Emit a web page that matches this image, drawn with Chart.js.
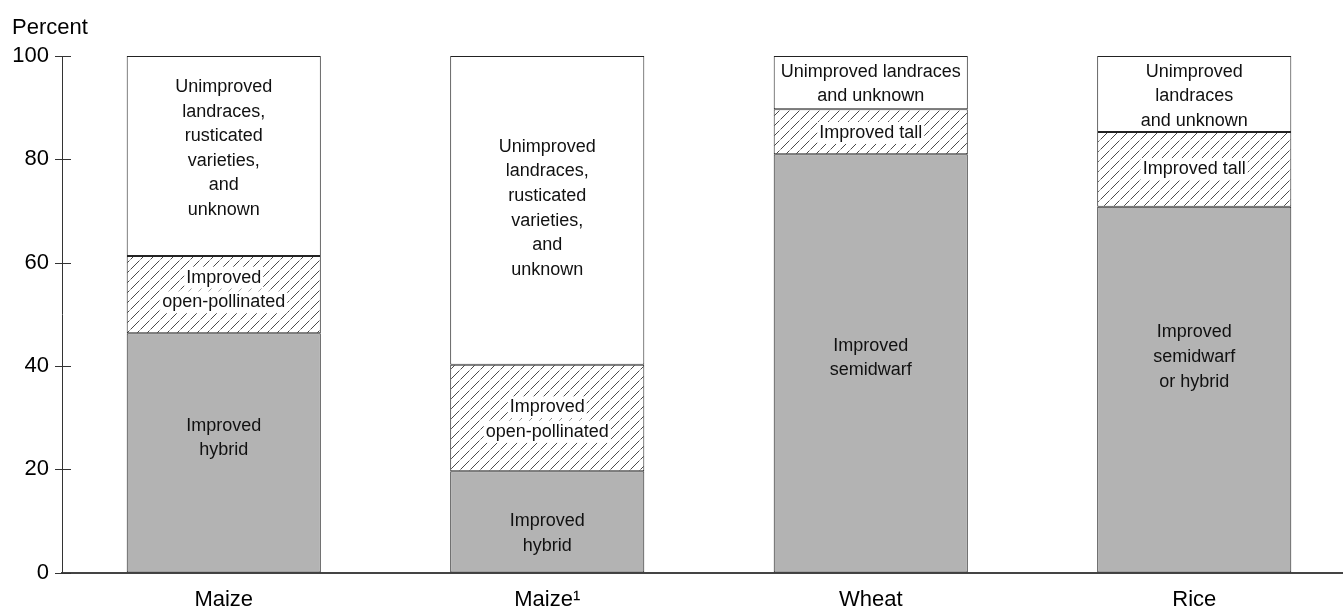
<!DOCTYPE html>
<html>
<head>
<meta charset="utf-8">
<script src="https://cdn.jsdelivr.net/npm/chart.js@4.4.1/dist/chart.umd.min.js"></script>
<style>
    html, body { margin: 0; padding: 0; background: #fff; overflow: hidden; }
    #grafico { display: block; }
</style>
</head>
<body>
<canvas id="grafico" width="1360" height="609"></canvas>
<script>
var categorias = ["Maize", "Maize\u00b9", "Wheat", "Rice"];
var moderno = [46.3, 19.6, 81.0, 70.8];      // improved hybrid / semidwarf
var outros = [15.0, 20.6, 8.7, 14.5];        // improved open-pollinated / tall
var naoMelhorado = [38.7, 59.8, 10.3, 14.7]; // unimproved landraces and unknown
var ticksY = [0, 20, 40, 60, 80, 100];

// texts inside each segment
var rotulos = [
    [["Improved", "hybrid"], ["Improved", "hybrid"], ["Improved", "semidwarf"], ["Improved", "semidwarf", "or hybrid"]],
    [["Improved", "open-pollinated"], ["Improved", "open-pollinated"], ["Improved tall"], ["Improved tall"]],
    [["Unimproved", "landraces,", "rusticated", "varieties,", "and", "unknown"],
     ["Unimproved", "landraces,", "rusticated", "varieties,", "and", "unknown"],
     ["Unimproved landraces", "and unknown"],
     ["Unimproved", "landraces", "and unknown"]]
];
// where the text block is centred, in percent
var posRotulos = [
    [26.0, 7.6, 41.5, 41.7],
    [54.7, 29.6, 85.1, 78.1],
    [82.1, 70.5, 94.6, 92.2]
];

function hachura() {
    var c = document.createElement("canvas");
    c.width = 10;
    c.height = 10;
    var g = c.getContext("2d");
    g.fillStyle = "#fff";
    g.fillRect(0, 0, 10, 10);
    g.strokeStyle = "#333";
    g.lineWidth = 0.9;
    g.beginPath();
    g.moveTo(0.5, 9.5);
    g.lineTo(9.5, 0.5);
    g.stroke();
    return document.getElementById("grafico").getContext("2d").createPattern(c, "repeat");
}

var fonte = "'Liberation Sans', Arial, sans-serif";

var extras = {
    id: "extras",
    afterDraw: function (chart) {
        var ctx = chart.ctx;
        var y = chart.scales.y;
        var area = chart.chartArea;
        ctx.save();

        // tick marks crossing the axis
        ctx.strokeStyle = "#333";
        ctx.lineWidth = 1;
        for (var i = 0; i < ticksY.length; i++) {
            var py = Math.round(y.getPixelForValue(ticksY[i])) + 0.5;
            ctx.beginPath();
            ctx.moveTo(area.left - 7, py);
            ctx.lineTo(area.left + 9, py);
            ctx.stroke();
        }

        ctx.fillStyle = "#000";
        ctx.font = "22px " + fonte;
        ctx.textAlign = "left";
        ctx.textBaseline = "alphabetic";
        ctx.fillText("Percent", 12, 34);

        // segment labels
        ctx.font = "18px " + fonte;
        ctx.textAlign = "center";
        ctx.textBaseline = "middle";
        var alturaLinha = 24.6;
        for (var d = 0; d < rotulos.length; d++) {
            var meta = chart.getDatasetMeta(d);
            for (var j = 0; j < meta.data.length; j++) {
                var linhas = rotulos[d][j];
                var cx = meta.data[j].x;
                var cy = y.getPixelForValue(posRotulos[d][j]);
                var y0 = cy - (linhas.length - 1) * alturaLinha / 2;
                if (d == 1) {
                    ctx.fillStyle = "#fff";
                    for (var k = 0; k < linhas.length; k++) {
                        var w = ctx.measureText(linhas[k]).width;
                        ctx.fillRect(cx - w / 2 - 2, y0 + k * alturaLinha - 11, w + 4, 22);
                    }
                }
                ctx.fillStyle = "#111";
                for (var k = 0; k < linhas.length; k++) {
                    ctx.fillText(linhas[k], cx, y0 + k * alturaLinha);
                }
            }
        }
        ctx.restore();
    }
};

new Chart(document.getElementById("grafico"), {
    type: "bar",
    data: {
        labels: categorias,
        datasets: [{
            label: "Improved hybrid / semidwarf",
            data: moderno,
            backgroundColor: "#b3b3b3",
            borderColor: "#222",
            borderWidth: 1,
            borderSkipped: false
        }, {
            label: "Improved open-pollinated / tall",
            data: outros,
            backgroundColor: hachura(),
            borderColor: "#222",
            borderWidth: 1,
            borderSkipped: false
        }, {
            label: "Unimproved",
            data: naoMelhorado,
            backgroundColor: "#fff",
            borderColor: "#222",
            borderWidth: 1,
            borderSkipped: false
        }]
    },
    options: {
        responsive: false,
        animation: false,
        categoryPercentage: 1,
        barPercentage: 0.6,
        layout: { padding: { top: 56, right: 4, left: 0, bottom: 0 } },
        plugins: {
            legend: { display: false },
            tooltip: { enabled: false }
        },
        scales: {
            x: {
                stacked: true,
                grid: { display: false, drawTicks: false },
                border: { color: "#444", width: 2 },
                ticks: { color: "#000", font: { family: fonte, size: 22 }, padding: 14 },
                afterFit: function (s) { s.height = 36.5; }
            },
            y: {
                stacked: true,
                min: 0,
                max: 100,
                afterBuildTicks: function (s) {
                    s.ticks = ticksY.map(function (v) { return { value: v }; });
                },
                grid: { display: false, drawTicks: false },
                border: { color: "#333", width: 1 },
                ticks: { color: "#000", font: { family: fonte, size: 22 }, padding: 13 },
                afterFit: function (s) { s.width = 62; }
            }
        }
    },
    plugins: [extras]
});
</script>
</body>
</html>
